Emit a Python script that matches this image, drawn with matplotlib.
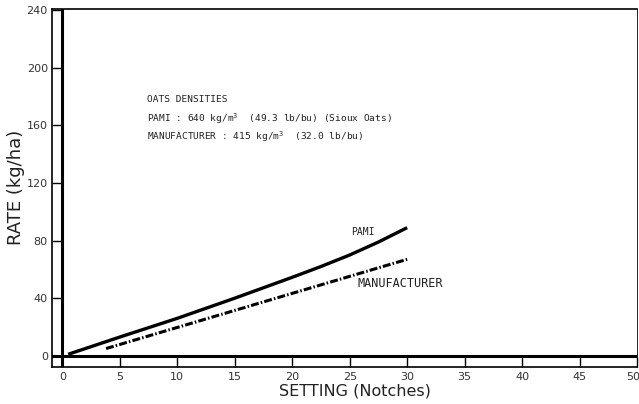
import matplotlib
matplotlib.use("Agg")
import matplotlib.pyplot as plt
import matplotlib.transforms as mtransforms

# PAMI measured rate (kg/ha) vs setting (notches)
pami_x = [0.5, 5, 10, 15, 20, 22.5, 25, 27.5, 30]
pami_y = [1, 13, 26, 40, 54.5, 62, 70, 79, 89]

# manufacturer rate
manu_x = [3.8, 30]
manu_y = [5, 67]

x_ticks = [0, 5, 10, 15, 20, 25, 30, 35, 40, 45, 50]
y_ticks = [0, 40, 80, 120, 160, 200, 240]

density_lines = [
    "OATS DENSITIES",
    "PAMI : 640 kg/m$^3$  (49.3 lb/bu) (Sioux Oats)",
    "MANUFACTURER : 415 kg/m$^3$  (32.0 lb/bu)",
]

plt.rcParams['font.family'] = ['DejaVu Sans']

fig = plt.figure(figsize=(6.39, 4.04), dpi=100)
ax = fig.add_axes([0.0814, 0.092, 0.9155, 0.886])

ax.plot(pami_x, pami_y, color="black", lw=2.4, solid_capstyle="butt")
ax.plot(manu_x, manu_y, color="black", lw=2.2,
        dashes=(2.6, 0.7, 0.5, 0.7))

# heavy zero lines
ax.axvline(0, color="black", lw=2.2)
ax.axhline(0, color="black", lw=2.2)

ax.set_xlim(-0.9, 50)
ax.set_ylim(-7.7, 241)
ax.set_xticks(x_ticks)
ax.set_yticks(y_ticks)
ax.tick_params(direction="in", length=7, width=1, labelsize=8,
               colors="black", labelcolor="#333333")
ax.tick_params(axis="x", pad=4)
ax.tick_params(axis="y", pad=3)
for s in ax.spines.values():
    s.set_linewidth(1.2)
ax.spines["right"].set_linewidth(0.6)

# keep the last x label inside the picture
last = ax.get_xticklabels()[-1]
last.set_transform(last.get_transform() +
                   mtransforms.ScaledTranslation(-4 / 100, 0, fig.dpi_scale_trans))

ax.set_xlabel("SETTING (Notches)", fontsize=11.5, color="#222222")
ax.set_ylabel("RATE (kg/ha)", fontsize=13, color="#222222")
ax.xaxis.set_label_coords(0.518, -0.047)
ax.yaxis.set_label_coords(-0.046, 0.5)

for i, line in enumerate(density_lines):
    ax.text(7.4, 178 - 13 * i, line, fontsize=6.8, color="#222222",
            va="center", ha="left", family="DejaVu Sans Mono")

ax.text(25.1, 86, "PAMI", fontsize=7, color="#222222", va="center",
        family="DejaVu Sans Mono")
ax.text(25.7, 50, "MANUFACTURER", fontsize=8.5, color="#222222", va="center",
        family="DejaVu Sans Mono")

fig.savefig("out.png", dpi=100)
